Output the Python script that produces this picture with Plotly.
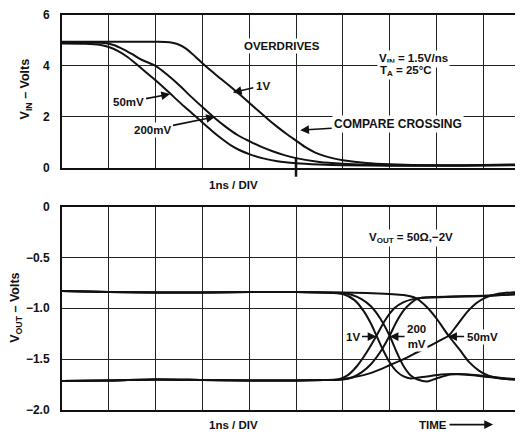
import plotly.graph_objects as go

# ---------------- data (time in ns = divisions) ----------------
# Top panel: V_IN (Volts)
vin_t_50mv = [0, 0.5, 0.8, 1.0, 1.2, 1.4, 1.6, 1.8, 2.0, 2.2, 2.4, 2.6, 2.8, 3.0, 3.2, 3.4, 3.6, 3.8, 4.0, 4.3, 4.6, 5.0, 5.5, 6.0, 7.0, 8.0, 9.0, 9.85]
vin_50mv = [4.88, 4.87, 4.83, 4.74, 4.58, 4.35, 4.05, 3.74, 3.43, 3.1, 2.76, 2.42, 2.1, 1.77, 1.45, 1.15, 0.88, 0.68, 0.53, 0.36, 0.25, 0.17, 0.12, 0.09, 0.07, 0.07, 0.08, 0.09]

vin_t_200mv = [0, 0.6, 0.9, 1.1, 1.3, 1.5, 1.7, 2.0, 2.25, 2.5, 2.75, 3.0, 3.25, 3.5, 3.75, 4.0, 4.25, 4.5, 4.75, 5.0, 5.5, 6.0, 6.5, 7.0, 8.0, 9.0, 9.85]
vin_200mv = [4.92, 4.92, 4.9, 4.82, 4.66, 4.46, 4.24, 4.0, 3.65, 3.25, 2.8, 2.38, 1.97, 1.6, 1.28, 1.04, 0.82, 0.64, 0.49, 0.37, 0.22, 0.15, 0.11, 0.09, 0.08, 0.09, 0.1]

vin_t_1v = [0, 1.0, 2.0, 2.3, 2.45, 2.65, 2.85, 3.06, 3.4, 3.73, 4.0, 4.2, 4.4, 4.6, 4.8, 5.0, 5.2, 5.4, 5.6, 5.8, 6.0, 6.5, 7.0, 8.0, 9.0, 9.85]
vin_1v = [4.95, 4.95, 4.95, 4.93, 4.87, 4.68, 4.36, 4.0, 3.48, 2.98, 2.55, 2.22, 1.9, 1.6, 1.32, 1.06, 0.8, 0.6, 0.46, 0.36, 0.29, 0.18, 0.13, 0.09, 0.1, 0.13]

# Bottom panel: V_OUT (Volts)
vout_t_fall_1v = [0, 1, 2, 3, 4, 5, 5.6, 6.0, 6.25, 6.45, 6.6, 6.72, 6.85, 7.0, 7.15, 7.3, 7.45, 7.8, 8.1, 8.6, 9.0, 9.4, 9.85]
vout_fall_1v = [-0.83, -0.84, -0.845, -0.845, -0.84, -0.84, -0.845, -0.86, -0.92, -1.03, -1.15, -1.27, -1.4, -1.53, -1.62, -1.67, -1.69, -1.67, -1.65, -1.65, -1.67, -1.69, -1.7]

vout_t_rise_1v = [0, 1, 2, 3, 4, 5, 5.6, 5.9, 6.1, 6.3, 6.5, 6.72, 6.9, 7.1, 7.3, 7.5, 7.8, 8.2, 8.6, 9.0, 9.4, 9.85]
vout_rise_1v = [-1.715, -1.71, -1.7, -1.705, -1.71, -1.71, -1.705, -1.7, -1.66, -1.57, -1.44, -1.27, -1.12, -1.0, -0.94, -0.91, -0.895, -0.89, -0.885, -0.88, -0.87, -0.86]

vout_t_fall_200mv = [0, 1, 2, 3, 4, 5, 5.6, 6.0, 6.2, 6.4, 6.6, 6.8, 7.0, 7.15, 7.3, 7.45, 7.6, 7.8, 8.0, 8.3, 8.7, 9.1, 9.5, 9.85]
vout_fall_200mv = [-0.83, -0.84, -0.845, -0.845, -0.84, -0.84, -0.845, -0.85, -0.87, -0.91, -0.98, -1.1, -1.27, -1.43, -1.57, -1.66, -1.7, -1.72, -1.69, -1.65, -1.65, -1.67, -1.69, -1.7]

vout_t_rise_200mv = [0, 1, 2, 3, 4, 5, 5.6, 6.0, 6.2, 6.4, 6.6, 6.8, 7.0, 7.15, 7.3, 7.45, 7.6, 7.9, 8.3, 8.7, 9.1, 9.5, 9.85]
vout_rise_200mv = [-1.715, -1.71, -1.7, -1.705, -1.71, -1.71, -1.705, -1.7, -1.68, -1.63, -1.55, -1.43, -1.27, -1.13, -1.02, -0.95, -0.905, -0.89, -0.885, -0.88, -0.875, -0.865, -0.855]

vout_t_fall_50mv = [0, 1, 2, 3, 4, 5, 5.6, 6.0, 6.5, 7.0, 7.3, 7.56, 7.8, 8.0, 8.26, 8.5, 8.7, 8.9, 9.1, 9.3, 9.6, 9.85]
vout_fall_50mv = [-0.83, -0.84, -0.845, -0.845, -0.84, -0.84, -0.845, -0.845, -0.85, -0.86, -0.87, -0.9, -0.99, -1.1, -1.27, -1.41, -1.53, -1.61, -1.66, -1.685, -1.7, -1.705]

vout_t_rise_50mv = [0, 1, 2, 3, 4, 5, 5.6, 5.9, 6.2, 6.5, 6.8, 7.0, 7.3, 7.6, 7.9, 8.1, 8.26, 8.45, 8.65, 8.85, 9.05, 9.3, 9.6, 9.85]
vout_rise_50mv = [-1.715, -1.71, -1.7, -1.705, -1.71, -1.71, -1.705, -1.7, -1.68, -1.65, -1.6, -1.56, -1.5, -1.43, -1.36, -1.31, -1.27, -1.16, -1.04, -0.95, -0.895, -0.86, -0.845, -0.84]

top_tickvals = [0, 2, 4, 6]
top_ticktext = ["0", "2", "4", "6"]
bot_tickvals = [0, -0.5, -1.0, -1.5, -2.0]
bot_ticktext = ["0", "\u22120.5", "\u22121.0", "\u22121.5", "\u22122.0"]

x_range = [0, 9.85]
top_range = [0, 6]
bot_range = [-2, 0]
compare_time = 5.0
compare_span = [0.41, -0.36]

# ---------------- figure ----------------
FONT = "Liberation Sans, Arial, Helvetica, sans-serif"
INK = "#111111"
line_style = dict(color=INK, width=2, shape="spline", smoothing=0.8)

fig = go.Figure()
for tx, vy in [(vin_t_50mv, vin_50mv), (vin_t_200mv, vin_200mv), (vin_t_1v, vin_1v)]:
    fig.add_trace(go.Scatter(x=tx, y=vy, mode="lines", line=line_style, xaxis="x", yaxis="y", hoverinfo="skip"))
for tx, vy in [(vout_t_fall_1v, vout_fall_1v), (vout_t_rise_1v, vout_rise_1v),
               (vout_t_fall_200mv, vout_fall_200mv), (vout_t_rise_200mv, vout_rise_200mv),
               (vout_t_fall_50mv, vout_fall_50mv), (vout_t_rise_50mv, vout_rise_50mv)]:
    fig.add_trace(go.Scatter(x=tx, y=vy, mode="lines", line=line_style, xaxis="x2", yaxis="y2", hoverinfo="skip"))

top_dom = [0.6138, 1.0]
bot_dom = [0.0, 0.5151]

xa = dict(range=x_range, dtick=1, tick0=0, showgrid=True, gridcolor="#222222", gridwidth=1,
          showticklabels=False, ticks="", zeroline=False, showline=True, linecolor=INK,
          linewidth=2, mirror=True, fixedrange=True)
ya = dict(showgrid=True, gridcolor="#222222", gridwidth=1, zeroline=False, showline=True,
          linecolor=INK, linewidth=2, ticks="", ticklabelstandoff=8,
          tickfont=dict(family=FONT, size=12, color=INK, weight="bold"), fixedrange=True)

# the page body adds an 8 px offset, so the figure is 8 px smaller than the window
fig.update_layout(
    width=515, height=424,
    margin=dict(l=54, r=0, t=4, b=22),
    paper_bgcolor="white", plot_bgcolor="white",
    showlegend=False, hovermode=False,
    xaxis=dict(xa, domain=[0, 1], anchor="y"),
    yaxis=dict(ya, domain=top_dom, range=top_range, tickvals=top_tickvals, ticktext=top_ticktext, anchor="x"),
    xaxis2=dict(xa, domain=[0, 1], anchor="y2"),
    yaxis2=dict(ya, domain=bot_dom, range=bot_range, tickvals=bot_tickvals, ticktext=bot_ticktext, anchor="x2"),
)

# compare crossing marker (goes below the axis, so placed in paper coords computed from the scales)
def top_paper_y(v):
    return top_dom[0] + (v - top_range[0]) / (top_range[1] - top_range[0]) * (top_dom[1] - top_dom[0])

cx = (compare_time - x_range[0]) / (x_range[1] - x_range[0])
fig.add_shape(type="line", xref="paper", yref="paper", x0=cx, x1=cx,
              y0=top_paper_y(compare_span[0]), y1=top_paper_y(compare_span[1]),
              line=dict(color=INK, width=2.5))

def ann(text, x, y, xref, yref, ax=None, ay=None, size=11.5, bg="white", **kw):
    d = dict(text=text, x=x, y=y, xref=xref, yref=yref,
             font=dict(family=FONT, size=size, color=INK, weight="bold"),
             bgcolor=bg, borderpad=1)
    if ax is None:
        d["showarrow"] = False
    else:
        d.update(showarrow=True, ax=ax, ay=ay, arrowhead=2, arrowsize=1.1,
                 arrowwidth=1.6, arrowcolor=INK, standoff=0, startstandoff=1)
    d.update(kw)
    fig.add_annotation(**d)

# top panel labels
ann("OVERDRIVES", 4.69, 4.79, "x", "y")
ann("1V", 3.65, 2.95, "x", "y", ax=30, ay=-7)
ann("50mV", 2.31, 2.89, "x", "y", ax=-42, ay=8)
ann("200mV", 3.27, 2.0, "x", "y", ax=-63, ay=13)
ann("COMPARE CROSSING", 5.09, 1.47, "x", "y", ax=98, ay=-6, size=12)
ann("V<sub>IN</sub> = 1.5V/ns", 6.73, 4.28, "x", "y", xanchor="left")
ann("T<sub>A</sub> = 25°C", 6.75, 3.8, "x", "y", xanchor="left")

# bottom panel labels
ann("V<sub>OUT</sub> = 50\u03a9,\u22122V", 7.46, -0.31, "x2", "y2")
ann("1V", 6.72, -1.278, "x2", "y2", ax=-24, ay=0)
ann("200<br>mV", 7.0, -1.278, "x2", "y2", ax=27, ay=0)
ann("50mV", 8.25, -1.278, "x2", "y2", ax=34, ay=0)

# axis captions
ann("1ns / DIV", 0.371, 0.570, "paper", "paper", bg="rgba(0,0,0,0)", yanchor="middle")
ann("1ns / DIV", 0.371, -0.037, "paper", "paper", bg="rgba(0,0,0,0)", yanchor="middle")
ann("TIME", 0.935, -0.037, "paper", "paper", ax=-60, ay=0, bg="rgba(0,0,0,0)", yanchor="middle")
ann("V<sub>IN</sub> \u2013 Volts", -0.076, 0.814, "paper", "paper", textangle=-90, size=12.5,
    bg="rgba(0,0,0,0)", xanchor="center", yanchor="middle")
ann("V<sub>OUT</sub> \u2013 Volts", -0.0995, 0.259, "paper", "paper", textangle=-90, size=12.5,
    bg="rgba(0,0,0,0)", xanchor="center", yanchor="middle")

fig.write_html("out.html")
